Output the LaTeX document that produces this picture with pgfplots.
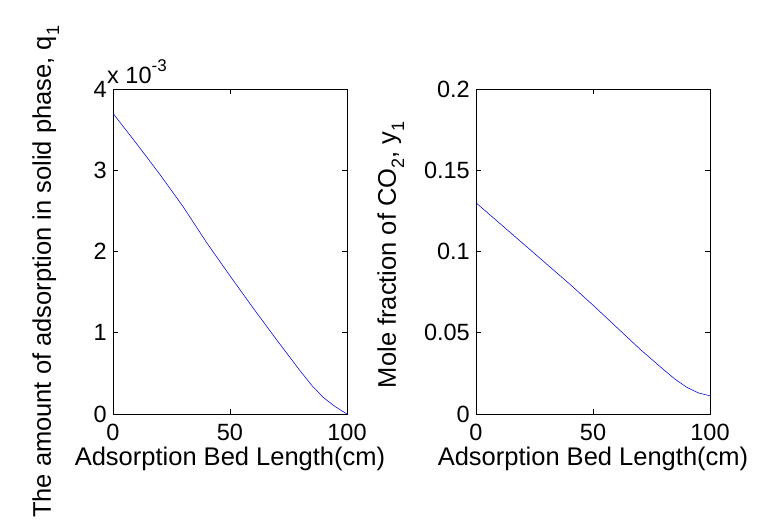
\documentclass[border=0pt]{standalone}
\usepackage{pgfplots}
\pgfplotsset{compat=1.18}
\usepackage{fontspec}
\setmainfont{Liberation Sans}
\newcommand{\ticksz}{\fontsize{23.5bp}{26bp}\selectfont}
\newcommand{\labsz}{\fontsize{25.5bp}{28bp}\selectfont}
\newcommand{\sub}[1]{\raisebox{-0.32em}{\fontsize{18bp}{18bp}\selectfont #1}}
\pgfplotsset{
  mystyle/.style={
    scale only axis, width=234bp, height=325bp,
    anchor=south west,
    xmin=0, xmax=100, ymin=0,
    xtick={0,50,100},
    tick align=inside,
    major tick length=5bp,
    every tick/.style={black, line width=0.8bp},
    axis line style={black, line width=0.9bp},
    tick label style={font=\ticksz},
    /pgf/number format/assume math mode=true,
    /pgf/number format/fixed,
    label style={font=\labsz},
    xlabel style={at={(axis description cs:0.5,0)}, anchor=base, yshift=-51bp},
    every y tick label/.append style={inner sep=0bp, xshift=-6bp},
    every x tick label/.append style={inner sep=0bp, yshift=-10bp},
  }
}
\begin{document}
\begin{tikzpicture}
\useasboundingbox (0,0) rectangle (760bp,520bp);
\clip (0,0) rectangle (760bp,520bp);
\fill[white] (0,0) rectangle (760bp,520bp);
\begin{axis}[mystyle, at={(113bp,106bp)},
  ymax=0.004, ytick={0,0.001,0.002,0.003,0.004},
  scaled y ticks=base 10:3,
  ytick scale label code/.code={x 10\raisebox{0.5em}{\fontsize{17bp}{17bp}\selectfont -3}},
  every y tick scale label/.style={at={(axis description cs:0,1)}, anchor=base west, inner sep=0bp, yshift=6bp, font=\ticksz},
  xlabel={Adsorption Bed Length(cm)},
  ylabel={The amount of adsorption in solid phase, q\sub{1}},
  ylabel style={at={(axis description cs:-0.265,0.437)}, anchor=base, rotate=0},
]
\addplot[blue!85!black, line width=0.55bp] coordinates {
(0,0.00370) (10,0.00333) (20,0.00295) (30,0.00255) (40,0.00211) (50,0.00170)
(60,0.00130) (70,0.00091) (80,0.00053) (85,0.00035) (90,0.00020) (95,0.00009) (100,0.0)
};
\end{axis}
\begin{axis}[mystyle, at={(476bp,106bp)},
  ymax=0.2, ytick={0,0.05,0.1,0.15,0.2},
  /pgf/number format/precision=2,
  xlabel={Adsorption Bed Length(cm)},
  ylabel={Mole fraction of CO\sub{2}, y\sub{1}},
  ylabel style={at={(axis description cs:-0.342,0.49)}, anchor=base, rotate=0},
]
\addplot[blue!85!black, line width=0.55bp] coordinates {
(0,0.1300) (10,0.1175) (20,0.1050) (30,0.0925) (40,0.0800) (50,0.0670)
(60,0.0535) (70,0.0400) (80,0.0275) (85,0.0215) (90,0.0165) (95,0.0130) (100,0.0112)
};
\end{axis}
\end{tikzpicture}
\end{document}
